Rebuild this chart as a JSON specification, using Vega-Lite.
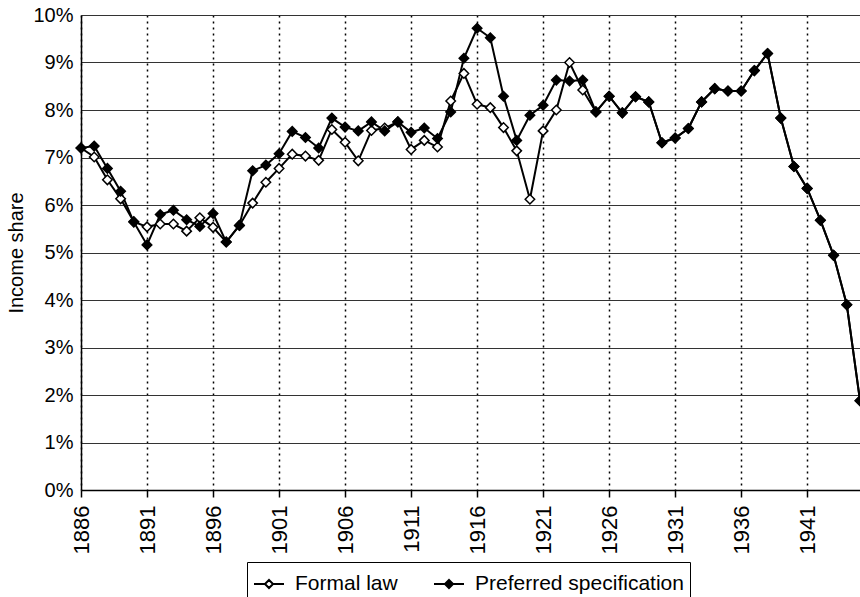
{
  "$schema": "https://vega.github.io/schema/vega-lite/v6.json",
  "autosize": {"type": "none"},
  "padding": {"left": 81, "top": 15, "right": 0, "bottom": 107},
  "width": 779,
  "height": 475,
  "background": "white",
  "config": {
    "font": "Liberation Sans",
    "view": {"stroke": null},
    "axis": {"labelColor": "black", "titleColor": "black", "domainColor": "black", "tickColor": "black"}
  },
  "datasets": {
    "rows": [
      {"year": 1886, "series": "Formal law", "value": 7.20},
      {"year": 1887, "series": "Formal law", "value": 7.01},
      {"year": 1888, "series": "Formal law", "value": 6.53},
      {"year": 1889, "series": "Formal law", "value": 6.13},
      {"year": 1890, "series": "Formal law", "value": 5.65},
      {"year": 1891, "series": "Formal law", "value": 5.54},
      {"year": 1892, "series": "Formal law", "value": 5.60},
      {"year": 1893, "series": "Formal law", "value": 5.60},
      {"year": 1894, "series": "Formal law", "value": 5.45},
      {"year": 1895, "series": "Formal law", "value": 5.73},
      {"year": 1896, "series": "Formal law", "value": 5.53},
      {"year": 1897, "series": "Formal law", "value": 5.22},
      {"year": 1898, "series": "Formal law", "value": 5.57},
      {"year": 1899, "series": "Formal law", "value": 6.04},
      {"year": 1900, "series": "Formal law", "value": 6.48},
      {"year": 1901, "series": "Formal law", "value": 6.77},
      {"year": 1902, "series": "Formal law", "value": 7.07},
      {"year": 1903, "series": "Formal law", "value": 7.03},
      {"year": 1904, "series": "Formal law", "value": 6.94},
      {"year": 1905, "series": "Formal law", "value": 7.59},
      {"year": 1906, "series": "Formal law", "value": 7.32},
      {"year": 1907, "series": "Formal law", "value": 6.93},
      {"year": 1908, "series": "Formal law", "value": 7.57},
      {"year": 1909, "series": "Formal law", "value": 7.62},
      {"year": 1910, "series": "Formal law", "value": 7.75},
      {"year": 1911, "series": "Formal law", "value": 7.17},
      {"year": 1912, "series": "Formal law", "value": 7.36},
      {"year": 1913, "series": "Formal law", "value": 7.22},
      {"year": 1914, "series": "Formal law", "value": 8.19},
      {"year": 1915, "series": "Formal law", "value": 8.77},
      {"year": 1916, "series": "Formal law", "value": 8.12},
      {"year": 1917, "series": "Formal law", "value": 8.05},
      {"year": 1918, "series": "Formal law", "value": 7.63},
      {"year": 1919, "series": "Formal law", "value": 7.14},
      {"year": 1920, "series": "Formal law", "value": 6.12},
      {"year": 1921, "series": "Formal law", "value": 7.56},
      {"year": 1922, "series": "Formal law", "value": 8.00},
      {"year": 1923, "series": "Formal law", "value": 9.00},
      {"year": 1924, "series": "Formal law", "value": 8.42},
      {"year": 1925, "series": "Formal law", "value": 7.96},
      {"year": 1926, "series": "Formal law", "value": 8.29},
      {"year": 1927, "series": "Formal law", "value": 7.94},
      {"year": 1928, "series": "Formal law", "value": 8.28},
      {"year": 1929, "series": "Formal law", "value": 8.17},
      {"year": 1930, "series": "Formal law", "value": 7.31},
      {"year": 1931, "series": "Formal law", "value": 7.41},
      {"year": 1932, "series": "Formal law", "value": 7.61},
      {"year": 1933, "series": "Formal law", "value": 8.17},
      {"year": 1934, "series": "Formal law", "value": 8.45},
      {"year": 1935, "series": "Formal law", "value": 8.40},
      {"year": 1936, "series": "Formal law", "value": 8.40},
      {"year": 1937, "series": "Formal law", "value": 8.83},
      {"year": 1938, "series": "Formal law", "value": 9.19},
      {"year": 1939, "series": "Formal law", "value": 7.83},
      {"year": 1940, "series": "Formal law", "value": 6.81},
      {"year": 1941, "series": "Formal law", "value": 6.35},
      {"year": 1942, "series": "Formal law", "value": 5.68},
      {"year": 1943, "series": "Formal law", "value": 4.94},
      {"year": 1944, "series": "Formal law", "value": 3.90},
      {"year": 1945, "series": "Formal law", "value": 1.88},
      {"year": 1886, "series": "Preferred specification", "value": 7.20},
      {"year": 1887, "series": "Preferred specification", "value": 7.24},
      {"year": 1888, "series": "Preferred specification", "value": 6.77},
      {"year": 1889, "series": "Preferred specification", "value": 6.29},
      {"year": 1890, "series": "Preferred specification", "value": 5.64},
      {"year": 1891, "series": "Preferred specification", "value": 5.16},
      {"year": 1892, "series": "Preferred specification", "value": 5.80},
      {"year": 1893, "series": "Preferred specification", "value": 5.89},
      {"year": 1894, "series": "Preferred specification", "value": 5.69},
      {"year": 1895, "series": "Preferred specification", "value": 5.55},
      {"year": 1896, "series": "Preferred specification", "value": 5.82},
      {"year": 1897, "series": "Preferred specification", "value": 5.22},
      {"year": 1898, "series": "Preferred specification", "value": 5.57},
      {"year": 1899, "series": "Preferred specification", "value": 6.72},
      {"year": 1900, "series": "Preferred specification", "value": 6.84},
      {"year": 1901, "series": "Preferred specification", "value": 7.08},
      {"year": 1902, "series": "Preferred specification", "value": 7.55},
      {"year": 1903, "series": "Preferred specification", "value": 7.42},
      {"year": 1904, "series": "Preferred specification", "value": 7.20},
      {"year": 1905, "series": "Preferred specification", "value": 7.83},
      {"year": 1906, "series": "Preferred specification", "value": 7.64},
      {"year": 1907, "series": "Preferred specification", "value": 7.56},
      {"year": 1908, "series": "Preferred specification", "value": 7.75},
      {"year": 1909, "series": "Preferred specification", "value": 7.56},
      {"year": 1910, "series": "Preferred specification", "value": 7.75},
      {"year": 1911, "series": "Preferred specification", "value": 7.53},
      {"year": 1912, "series": "Preferred specification", "value": 7.62},
      {"year": 1913, "series": "Preferred specification", "value": 7.40},
      {"year": 1914, "series": "Preferred specification", "value": 7.96},
      {"year": 1915, "series": "Preferred specification", "value": 9.09},
      {"year": 1916, "series": "Preferred specification", "value": 9.72},
      {"year": 1917, "series": "Preferred specification", "value": 9.52},
      {"year": 1918, "series": "Preferred specification", "value": 8.29},
      {"year": 1919, "series": "Preferred specification", "value": 7.36},
      {"year": 1920, "series": "Preferred specification", "value": 7.89},
      {"year": 1921, "series": "Preferred specification", "value": 8.10},
      {"year": 1922, "series": "Preferred specification", "value": 8.63},
      {"year": 1923, "series": "Preferred specification", "value": 8.61},
      {"year": 1924, "series": "Preferred specification", "value": 8.63},
      {"year": 1925, "series": "Preferred specification", "value": 7.96},
      {"year": 1926, "series": "Preferred specification", "value": 8.29},
      {"year": 1927, "series": "Preferred specification", "value": 7.94},
      {"year": 1928, "series": "Preferred specification", "value": 8.28},
      {"year": 1929, "series": "Preferred specification", "value": 8.17},
      {"year": 1930, "series": "Preferred specification", "value": 7.31},
      {"year": 1931, "series": "Preferred specification", "value": 7.41},
      {"year": 1932, "series": "Preferred specification", "value": 7.61},
      {"year": 1933, "series": "Preferred specification", "value": 8.17},
      {"year": 1934, "series": "Preferred specification", "value": 8.45},
      {"year": 1935, "series": "Preferred specification", "value": 8.40},
      {"year": 1936, "series": "Preferred specification", "value": 8.40},
      {"year": 1937, "series": "Preferred specification", "value": 8.83},
      {"year": 1938, "series": "Preferred specification", "value": 9.19},
      {"year": 1939, "series": "Preferred specification", "value": 7.83},
      {"year": 1940, "series": "Preferred specification", "value": 6.81},
      {"year": 1941, "series": "Preferred specification", "value": 6.35},
      {"year": 1942, "series": "Preferred specification", "value": 5.68},
      {"year": 1943, "series": "Preferred specification", "value": 4.94},
      {"year": 1944, "series": "Preferred specification", "value": 3.90},
      {"year": 1945, "series": "Preferred specification", "value": 1.88}
    ]
  },
  "data": {"name": "rows"},
  "encoding": {
    "x": {
      "field": "year", "type": "quantitative",
      "scale": {"domain": [1886, 1945], "nice": false, "zero": false},
      "axis": {
        "title": null,
        "values": [1886, 1891, 1896, 1901, 1906, 1911, 1916, 1921, 1926, 1931, 1936, 1941],
        "format": "d",
        "labelAngle": 270,
        "labelFontSize": 22,
        "labelPadding": 8,
        "tickSize": 7,
        "tickWidth": 1.5,
        "domainWidth": 1.5,
        "grid": true,
        "gridColor": "black",
        "gridDash": [2, 4],
        "gridWidth": 1.5,
        "gridOpacity": 1,
        "labelFlush": false,
        "labelOverlap": false
      }
    },
    "y": {
      "field": "value", "type": "quantitative",
      "scale": {"domain": [0, 10], "nice": false},
      "axis": {
        "title": "Income share",
        "titleFontSize": 20,
        "titleFontWeight": "normal",
        "titlePadding": 6,
        "values": [0, 1, 2, 3, 4, 5, 6, 7, 8, 9, 10],
        "labelExpr": "datum.value + '%'",
        "labelFontSize": 20,
        "labelPadding": 8,
        "ticks": false,
        "domainWidth": 1.5,
        "grid": true,
        "gridColor": "#333333",
        "gridWidth": 1.2,
        "gridOpacity": 1,
        "labelFlush": false,
        "labelOverlap": false
      }
    }
  },
  "layer": [
    {
      "mark": {"type": "line", "color": "black", "strokeWidth": 2},
      "encoding": {"detail": {"field": "series", "type": "nominal"}}
    },
    {
      "mark": {"type": "point", "shape": "diamond", "filled": true, "stroke": "black", "strokeWidth": 1.5, "size": 90, "opacity": 1},
      "encoding": {
        "fill": {
          "field": "series", "type": "nominal",
          "scale": {"domain": ["Formal law", "Preferred specification"], "range": ["white", "black"]},
          "legend": {
            "title": null,
            "orient": "none",
            "legendX": 166,
            "legendY": 547,
            "direction": "horizontal",
            "strokeColor": "black",
            "padding": 6,
            "labelFontSize": 21,
            "labelColor": "black",
            "labelLimit": 0,
            "labelOffset": 10,
            "columnPadding": 32,
            "symbolType": "M-1,0H-0.27M0.27,0H1M0,-0.27L0.27,0L0,0.27L-0.27,0Z",
            "symbolSize": 900,
            "symbolStrokeWidth": 2,
            "symbolStrokeColor": "black",
            "encode": {"symbols": {"update": {"stroke": {"value": "black"}, "strokeWidth": {"value": 2}, "opacity": {"value": 1}}}}
          }
        }
      }
    }
  ]
}
